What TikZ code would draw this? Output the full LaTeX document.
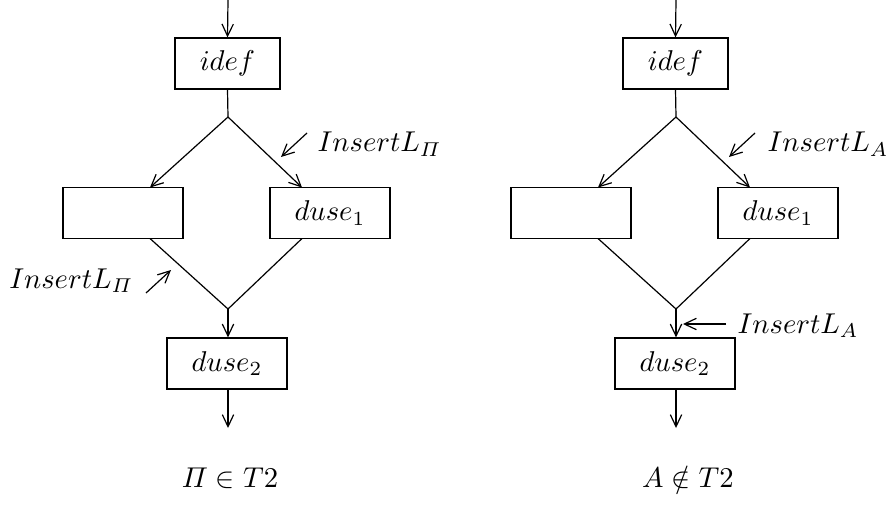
\documentclass[tikz,border=0pt]{standalone}
\usepackage{graphicx}
\usepackage{amsmath,amssymb}
\usetikzlibrary{arrows.meta}
\newcommand{\mytxt}[1]{\scalebox{0.955}{$#1$}}
\tikzset{
  box/.style={draw, rectangle, line width=0.4pt, minimum height=17pt, inner sep=0pt},
  narrowbox/.style={box, minimum width=35pt},
  widebox/.style={box, minimum width=40pt},
  flow/.style={line width=0.4pt, -{Straight Barb[length=4pt,width=3.8pt]}},
  plain/.style={line width=0.4pt},
  lbl/.style={inner sep=0pt}
}
\begin{document}
\begin{tikzpicture}[x=0.33333pt,y=-0.33333pt]
\useasboundingbox (0,0) rectangle (889,519);
% ---------- left diagram ----------
\coordinate (Lin) at (228,0);
\node[narrowbox] (Lidef) at (227.5,63.5) {\mytxt{idef}};
\coordinate (Lsplit) at (228,117);
\node[widebox] (Lleft) at (123,213) {};
\node[widebox] (Lright) at (330,213) {\mytxt{duse_1}};
\coordinate (Llt) at (150,187.5);
\coordinate (Lrt) at (302,187.5);
\coordinate (Llb) at (150,238.5);
\coordinate (Lrb) at (302,238.5);
\coordinate (Ljoin) at (228,309);
\node[widebox] (Ld2) at (227,363.5) {\mytxt{duse_2}};
\coordinate (Lout) at (228,428);
\draw[flow] (Lin) -- (Lidef.north);
\draw[plain] (Lidef.south) -- (Lsplit);
\draw[flow] (Lsplit) -- (Llt);
\draw[flow] (Lsplit) -- (Lrt);
\draw[plain] (Llb) -- (Ljoin) -- (Lrb);
\draw[flow] (Ljoin) -- (Ld2.north -| Ljoin);
\draw[flow] (Ld2.south -| Ljoin) -- (Lout);
% insert markers
\coordinate (Lia1) at (307,133);
\coordinate (Lia2) at (281,157);
\draw[flow] (Lia1) -- (Lia2);
\node[lbl, anchor=base west] (LiaT) at (317,152) {\mytxt{InsertL_{\varPi}}};
\coordinate (Lib1) at (146,293);
\coordinate (Lib2) at (171,270);
\draw[flow] (Lib1) -- (Lib2);
\node[lbl, anchor=base east] (LibT) at (134,288) {\mytxt{InsertL_{\varPi}}};
\node[lbl, anchor=base] (Lcap) at (230,487) {\mytxt{\varPi \in T2}};
% ---------- right diagram ----------
\coordinate (Rin) at (676,0);
\node[narrowbox] (Ridef) at (675.5,63.5) {\mytxt{idef}};
\coordinate (Rsplit) at (676,117);
\node[widebox] (Rleft) at (571,213) {};
\node[widebox] (Rright) at (778,213) {\mytxt{duse_1}};
\coordinate (Rlt) at (598,187.5);
\coordinate (Rrt) at (750,187.5);
\coordinate (Rlb) at (598,238.5);
\coordinate (Rrb) at (750,238.5);
\coordinate (Rjoin) at (676,309);
\node[widebox] (Rd2) at (675,363.5) {\mytxt{duse_2}};
\coordinate (Rout) at (676,428);
\draw[flow] (Rin) -- (Ridef.north);
\draw[plain] (Ridef.south) -- (Rsplit);
\draw[flow] (Rsplit) -- (Rlt);
\draw[flow] (Rsplit) -- (Rrt);
\draw[plain] (Rlb) -- (Rjoin) -- (Rrb);
\draw[flow] (Rjoin) -- (Rd2.north -| Rjoin);
\draw[flow] (Rd2.south -| Rjoin) -- (Rout);
\coordinate (Ria1) at (755,133);
\coordinate (Ria2) at (729,157);
\draw[flow] (Ria1) -- (Ria2);
\node[lbl, anchor=base west] (RiaT) at (767,152) {\mytxt{InsertL_{A}}};
\coordinate (Rib1) at (726,324);
\coordinate (Rib2) at (683,324);
\draw[flow] (Rib1) -- (Rib2);
\node[lbl, anchor=base west] (RibT) at (737,333) {\mytxt{InsertL_{A}}};
\node[lbl, anchor=base] (Rcap) at (688,487) {\mytxt{A \notin T2}};
\end{tikzpicture}
\end{document}
